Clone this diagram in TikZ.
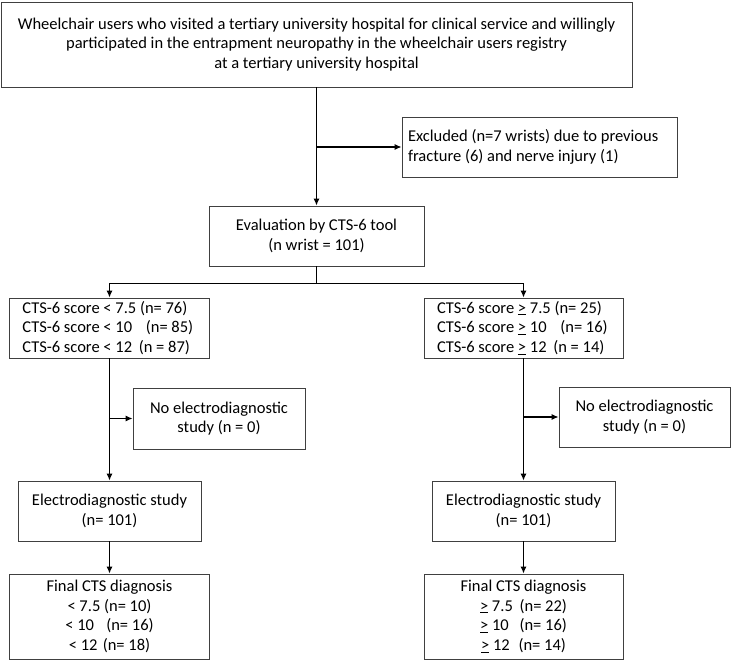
\documentclass[tikz,border=0pt]{standalone}
\usepackage{fontspec}
\setmainfont{Carlito}
\usetikzlibrary{arrows.meta,positioning}

\begin{document}
\begin{tikzpicture}[
    x=1pt, y=-1pt,
    >={Latex[length=7pt,width=6pt]},
    font=\fontsize{16.5}{19.6}\selectfont,
    cbox/.style={draw=black!75, line width=0.9pt, align=center, inner sep=1pt},
    lbox/.style={cbox, align=flush left},
    flowline/.style={line width=1.1pt}
]
\useasboundingbox (0,0) rectangle (732,661);

\node[cbox, minimum width=631pt, minimum height=85pt] (entry) at (316.5,44.5)
    {Wheelchair users who visited a tertiary university hospital for clinical service and willingly\\participated in the entrapment neuropathy in the wheelchair users registry\\at a tertiary university hospital};
\node[lbox, inner xsep=6pt, text width=263pt, minimum height=60pt] (excl) at (539.5,147)
    {Excluded (n=7 wrists) due to previous\\fracture (6) and nerve injury (1)};
\node[cbox, minimum width=215pt, minimum height=60pt] (evalnode) at (316.5,236)
    {Evaluation by CTS-6 tool\\(n wrist = 101)};

\node[lbox, inner xsep=13pt, text width=174pt, minimum height=60pt] (lcts) at (109.5,328)
    {CTS-6 score < 7.5 (n= 76)\\CTS-6 score < 10\hspace{10pt} (n= 85)\\CTS-6 score < 12\hspace{3pt} (n = 87)};
\node[lbox, inner xsep=13pt, text width=173pt, minimum height=60pt] (rcts) at (523.5,328)
    {CTS-6 score \underline{>} 7.5 (n= 25)\\CTS-6 score \underline{>} 10\hspace{10pt} (n= 16)\\CTS-6 score \underline{>} 12\hspace{3pt} (n = 14)};

\node[cbox, minimum width=172pt, minimum height=61pt] (lnoedx) at (219,418.5)
    {No electrodiagnostic\\study (n = 0)};
\node[cbox, minimum width=171pt, minimum height=60pt] (rnoedx) at (644.5,417)
    {No electrodiagnostic\\study (n = 0)};

\node[cbox, minimum width=183pt, minimum height=60pt] (ledx) at (109.5,511)
    {Electrodiagnostic study\\(n= 101)};
\node[cbox, minimum width=183pt, minimum height=60pt] (redx) at (523.5,511)
    {Electrodiagnostic study\\(n= 101)};

\node[cbox, minimum width=200pt, minimum height=85pt] (lfinal) at (109.5,616.5)
    {Final CTS diagnosis\\< 7.5 (n= 10)\\< 10\hspace{8.5pt} (n= 16)\\< 12\hspace{1.5pt} (n= 18)};
\node[cbox, minimum width=199pt, minimum height=85pt] (rfinal) at (523.5,616.5)
    {Final CTS diagnosis\\\underline{>} 7.5\hspace{3pt} (n= 22)\\\underline{>} 10\hspace{7pt} (n= 16)\\\underline{>} 12\hspace{5pt} (n= 14)};

\draw[->, flowline] (entry.south) -- (evalnode.north);
\draw[->, flowline] (excl.west -| entry.south) -- (excl.west);
\draw[flowline] (evalnode.south) -- ++(0,17) coordinate (fork);
\draw[->, flowline] (fork) -| (lcts.north);
\draw[->, flowline] (fork) -| (rcts.north);
\draw[->, flowline] (lcts.south) -- (ledx.north);
\draw[->, flowline] (rcts.south) -- (redx.north);
\draw[->, flowline] (lnoedx.west -| lcts.south) -- (lnoedx.west);
\draw[->, flowline] (rnoedx.west -| rcts.south) -- (rnoedx.west);
\draw[->, flowline] (ledx.south) -- (lfinal.north);
\draw[->, flowline] (redx.south) -- (rfinal.north);
\end{tikzpicture}
\end{document}
